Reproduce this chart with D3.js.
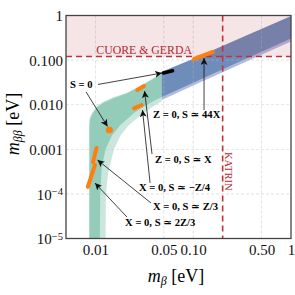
<!DOCTYPE html>
<html>
<head>
<meta charset="utf-8">
<script src="https://cdn.jsdelivr.net/npm/d3@7"></script>
<style>
body { margin: 0; background: #fff; }
text { font-family: "Liberation Serif", "DejaVu Serif", serif; }
</style>
</head>
<body>
<svg></svg>
<script>
const width = 295;
const height = 295;

// axis ticks
const xTicks = [0.01, 0.05, 0.1, 0.5, 1];
const xTickLabels = ["0.01", "0.05", "0.10", "0.50", "1"];
const yTicks = [1e-5, 1e-4, 1e-3, 1e-2, 1e-1, 1];
const yTickLabels = [["10", "\u22125"], ["10", "\u22124"], ["0.001"], ["0.010"], ["0.100"], ["1"]];

// limits
const cuoreLimit = 0.12;
const katrinLimit = 0.2;

// normal ordering bands: [m_beta, m_betabeta]
const noLightUpper = [[0.0086, 1e-5], [0.0086, 0.003], [0.0087, 0.005], [0.0092, 0.0066], [0.0103, 0.0093], [0.012, 0.0117], [0.0152, 0.0147], [0.021, 0.0186], [0.03, 0.028], [0.0476, 0.052]];
const noLightLower = [[0.0127, 1e-5], [0.0128, 1e-4], [0.0135, 3e-4], [0.0155, 0.001], [0.018, 0.002], [0.022, 0.0035], [0.03, 0.0062], [0.04, 0.0095], [0.0476, 0.0118]];
const noDarkUpper = [[0.0087, 1e-5], [0.0087, 0.003], [0.0088, 0.0047], [0.0093, 0.0062], [0.0104, 0.0088], [0.0121, 0.011], [0.0153, 0.014], [0.021, 0.018], [0.03, 0.027], [0.0476, 0.049]];
const noDarkLower = [[0.0111, 1e-5], [0.0112, 1e-4], [0.0116, 4e-4], [0.0127, 0.001], [0.0147, 0.002], [0.018, 0.0035], [0.025, 0.0066], [0.035, 0.0105], [0.0476, 0.0148]];

// inverted ordering bands
const ioLightUpper = [[0.0476, 0.055], [0.1, 0.107], [0.3, 0.31], [1, 0.97]];
const ioLightLower = [[0.0476, 0.0127], [0.1, 0.0268], [0.3, 0.08], [1, 0.262]];
const ioDarkUpper = [[0.0476, 0.054], [0.1, 0.106], [0.3, 0.305], [1, 0.96]];
const ioDarkLower = [[0.0476, 0.0148], [0.1, 0.031], [0.3, 0.093], [1, 0.305]];

// benchmark points
const orangeSegs = [
    [[0.0268, 0.0214], [0.0314, 0.0262]],
    [[0.0248, 0.0083], [0.0297, 0.00985]],
    [[0.102, 0.106], [0.159, 0.152]],
    [[0.01026, 0.00107], [0.00945, 0.00052]],
    [[0.0099, 0.000445], [0.00836, 0.000143]]
];
const orangeDot = [0.01387, 0.00271];
const blackSeg = [[0.0495, 0.0515], [0.0615, 0.0575]];

// annotations: label, label anchor, arrow start, arrow tip
const labels = ["S = 0", "Z = 0, S \u2243 44X", "Z = 0, S \u2243 X", "X = 0, S \u2243 \u2212Z/4", "X = 0, S \u2243 Z/3", "X = 0, S \u2243 2Z/3"];
const labelPos = [[0.0055, 0.0237], [0.0388, 0.00503], [0.0407, 0.000493], [0.1485, 0.000116], [0.0388, 4.35e-5], [0.0201, 1.9e-5]];
const labelAnchor = ["start", "start", "start", "end", "start", "start"];
const arrows = [
    [[0.00802, 0.0193], [0.0133, 0.00325]],
    [[0.01063, 0.0284], [0.048, 0.0514]],
    [[0.129, 0.0076], [0.129, 0.1115]],
    [[0.0379, 0.000785], [0.0318, 0.0203]],
    [[0.0362, 0.000176], [0.0303, 0.0076]],
    [[0.037, 6.25e-5], [0.0105, 0.000575]],
    [[0.021, 3.03e-5], [0.0099, 0.000175]]
];

const svg = d3.select("svg")
    .attr("width", width)
    .attr("height", height);

const x = d3.scaleLog().domain([0.005, 1]).range([66, 291]);
const y = d3.scaleLog().domain([1e-5, 1]).range([238.5, 15.5]);

svg.append("defs").append("marker")
    .attr("id", "head")
    .attr("viewBox", "0 0 10 10")
    .attr("refX", 10)
    .attr("refY", 5)
    .attr("markerWidth", 7)
    .attr("markerHeight", 7)
    .attr("markerUnits", "userSpaceOnUse")
    .attr("orient", "auto")
    .append("path")
    .attr("d", "M0,0L10,5L0,10L2.5,5Z")
    .attr("fill", "#111");

const line = d3.line().x(d => x(d[0])).y(d => y(d[1]));
const band = (upper, lower) => line(upper.concat(lower.slice().reverse())) + "Z";

// bands
svg.append("path").attr("d", band(noLightUpper, noLightLower))
    .attr("fill", "#2f9f78").attr("fill-opacity", 0.25);
svg.append("path").attr("d", band(noDarkUpper, noDarkLower))
    .attr("fill", "#2f9f78").attr("fill-opacity", 0.36);
svg.append("path").attr("d", band(ioLightUpper, ioLightLower))
    .attr("fill", "#b1bbe0");
svg.append("path").attr("d", band(ioDarkUpper, ioDarkLower))
    .attr("fill", "#6f8dba");

// grid
svg.append("g").selectAll("line")
    .data(xTicks.slice(0, -1))
    .enter().append("line")
    .attr("x1", d => x(d)).attr("x2", d => x(d))
    .attr("y1", y(1)).attr("y2", y(1e-5))
    .attr("stroke", "#bbb").attr("stroke-width", 0.6)
    .attr("stroke-dasharray", "3,2").attr("opacity", 0.7);
svg.append("g").selectAll("line")
    .data(yTicks.slice(1, -1))
    .enter().append("line")
    .attr("x1", x(0.005)).attr("x2", x(1))
    .attr("y1", d => y(d)).attr("y2", d => y(d))
    .attr("stroke", "#bbb").attr("stroke-width", 0.6)
    .attr("stroke-dasharray", "3,2").attr("opacity", 0.7);

// excluded region
svg.append("rect")
    .attr("x", x(0.005)).attr("y", y(1))
    .attr("width", x(1) - x(0.005))
    .attr("height", y(cuoreLimit) - y(1))
    .attr("fill", "#b4282e").attr("fill-opacity", 0.12);

svg.append("line")
    .attr("x1", x(0.005)).attr("x2", x(1))
    .attr("y1", y(cuoreLimit)).attr("y2", y(cuoreLimit))
    .attr("stroke", "#c2303a").attr("stroke-width", 1.6)
    .attr("stroke-dasharray", "6,4");
svg.append("line")
    .attr("x1", x(katrinLimit)).attr("x2", x(katrinLimit))
    .attr("y1", y(1)).attr("y2", y(1e-5))
    .attr("stroke", "#c2303a").attr("stroke-width", 1.6)
    .attr("stroke-dasharray", "6,4");

svg.append("text")
    .attr("x", x(0.0102)).attr("y", y(cuoreLimit) - 3)
    .attr("font-size", 11.8).attr("fill", "#b02a33")
    .text("CUORE & GERDA");
svg.append("text")
    .attr("transform", `translate(${x(katrinLimit) + 2},${y(0.00087)}) rotate(90)`)
    .attr("font-size", 10.5).attr("fill", "#b02a33")
    .text("KATRIN");

// arrows
svg.append("g").selectAll("line")
    .data(arrows)
    .enter().append("line")
    .attr("x1", d => x(d[0][0])).attr("y1", d => y(d[0][1]))
    .attr("x2", d => x(d[1][0])).attr("y2", d => y(d[1][1]))
    .attr("stroke", "#111").attr("stroke-width", 0.8)
    .attr("marker-end", "url(#head)");

// benchmark marks
svg.append("g").selectAll("path")
    .data(orangeSegs)
    .enter().append("path")
    .attr("d", d => line(d))
    .attr("stroke", "#ff7f0e").attr("stroke-width", 4)
    .attr("stroke-linecap", "round").attr("fill", "none");
svg.append("ellipse")
    .attr("cx", x(orangeDot[0])).attr("cy", y(orangeDot[1]))
    .attr("rx", 3.6).attr("ry", 3.2)
    .attr("fill", "#ff7f0e");
svg.append("path")
    .attr("d", line(blackSeg))
    .attr("stroke", "#000").attr("stroke-width", 3.5)
    .attr("stroke-linecap", "round").attr("fill", "none");

// labels
svg.append("g").selectAll("text")
    .data(labels)
    .enter().append("text")
    .attr("x", (d, i) => x(labelPos[i][0]))
    .attr("y", (d, i) => y(labelPos[i][1]))
    .attr("text-anchor", (d, i) => labelAnchor[i])
    .attr("font-size", 10.6).attr("font-weight", "bold")
    .text(d => d);

// axes
const xAxis = svg.append("g")
    .attr("transform", `translate(0,${y(1e-5)})`)
    .call(d3.axisBottom(x).tickValues(xTicks).tickFormat((d, i) => xTickLabels[i]).tickSize(0).tickPadding(6));
xAxis.select(".domain").remove();
xAxis.selectAll("text").attr("font-size", 15).attr("fill", "#111")
    .style("font-family", "'Liberation Serif', serif");

const yAxis = svg.append("g")
    .attr("transform", `translate(${x(0.005)},0)`)
    .call(d3.axisLeft(y).tickValues(yTicks).tickFormat("").tickSize(0));
yAxis.select(".domain").remove();
yAxis.selectAll(".tick").append("text")
    .attr("x", -3).attr("dy", "0.35em")
    .attr("text-anchor", "end").attr("font-size", 15).attr("fill", "#111")
    .each(function(d, i) {
        const parts = yTickLabels[i];
        const t = d3.select(this);
        t.append("tspan").text(parts[0]);
        if (parts[1]) {
            t.append("tspan").attr("font-size", 10.5).attr("dy", "-0.45em").text(parts[1]);
        }
    });

// frame
svg.append("rect")
    .attr("x", x(0.005)).attr("y", y(1))
    .attr("width", x(1) - x(0.005)).attr("height", y(1e-5) - y(1))
    .attr("fill", "none").attr("stroke", "#444").attr("stroke-width", 1.3);

// axis titles
const xt = svg.append("text")
    .attr("x", 176).attr("y", 282)
    .attr("text-anchor", "middle").attr("font-size", 18);
xt.append("tspan").attr("font-style", "italic").text("m");
xt.append("tspan").attr("font-size", 12).attr("font-style", "italic").attr("dy", 3).text("\u03b2");
xt.append("tspan").attr("dy", -3).text(" [eV]");

const yt = svg.append("text")
    .attr("transform", "translate(19,124) rotate(-90)")
    .attr("text-anchor", "middle").attr("font-size", 18);
yt.append("tspan").attr("font-style", "italic").text("m");
yt.append("tspan").attr("font-size", 12).attr("font-style", "italic").attr("dy", 3).text("\u03b2\u03b2");
yt.append("tspan").attr("dy", -3).text(" [eV]");
</script>
</body>
</html>
